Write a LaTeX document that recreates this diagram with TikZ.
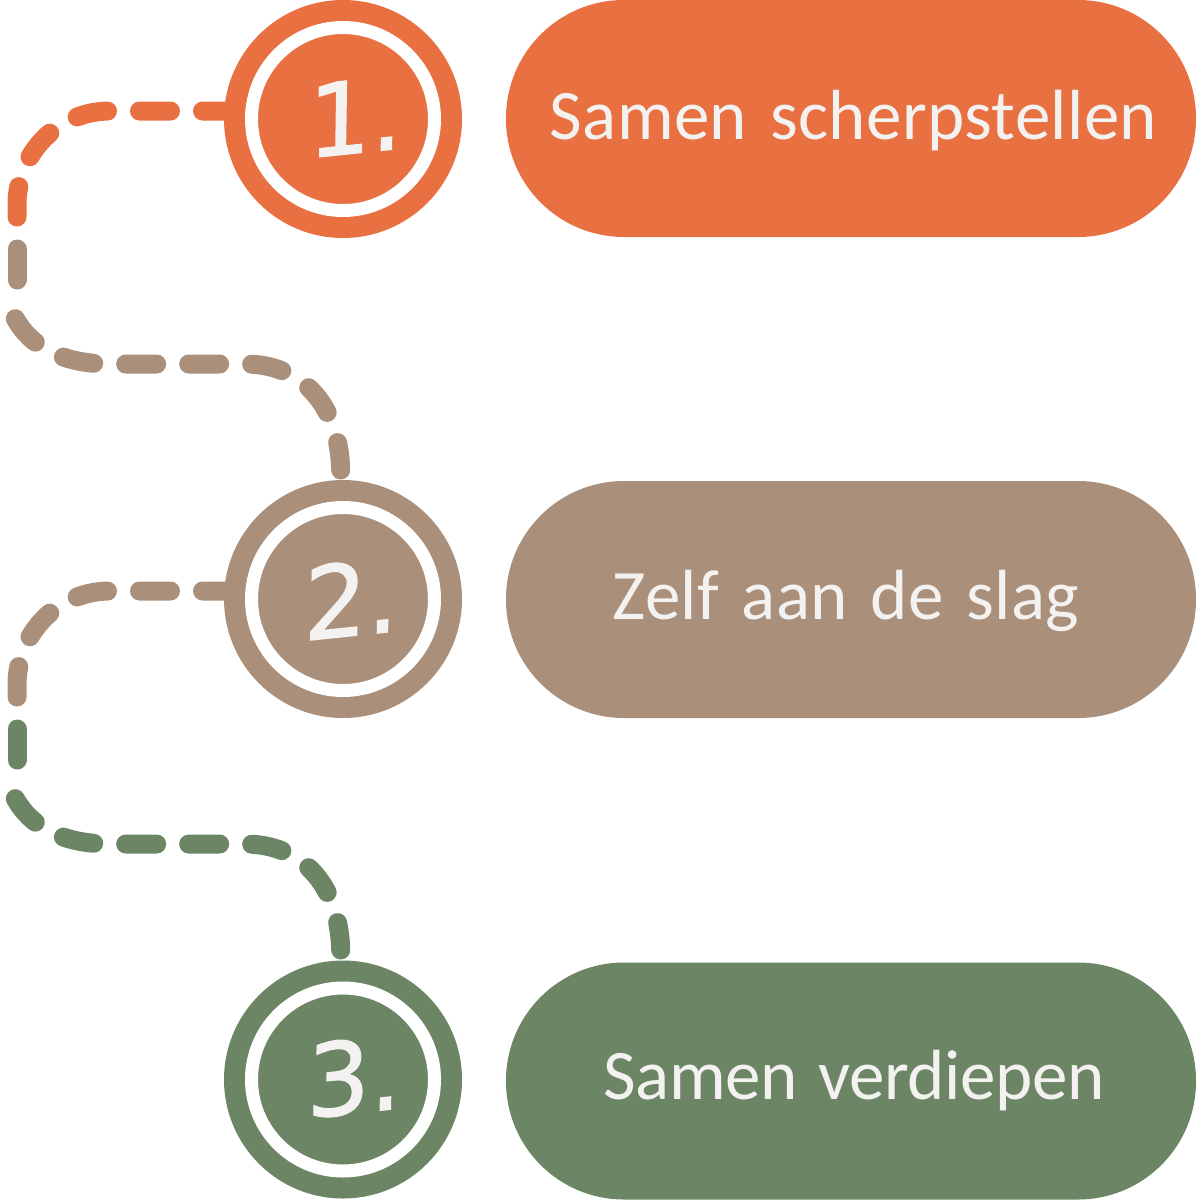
\documentclass[tikz,border=0pt]{standalone}
\usepackage{fontspec}
\newfontfamily\labfont[LetterSpace=0.5,WordSpace=1.4]{Carlito}
\newfontfamily\labfontC[LetterSpace=-0.6,WordSpace=1.3]{Carlito}
\newfontfamily\digitfont[FakeSlant=0.12,FakeBold=1.2]{DejaVu Sans}
\definecolor{cA}{HTML}{E87041}
\definecolor{cB}{HTML}{AA8F7B}
\definecolor{cC}{HTML}{6C8565}
\definecolor{txt}{HTML}{F3F2F0}
\tikzset{
  pill/.style={rectangle,fill=#1,rounded corners=118pt,minimum width=690pt,minimum height=237pt,inner sep=0pt},
  label/.style={inner sep=0pt,text=txt,font=\labfont\fontsize{71}{71}\selectfont},
  disc/.style={circle,fill=#1,minimum size=238pt,inner sep=0pt},
  ring/.style={circle,fill=#1,draw=white,line width=13pt,minimum size=183pt,inner sep=0pt},
  numeral/.style={inner sep=0pt,text=txt,rotate=6,font=\digitfont\fontsize{100}{100}\selectfont},
  link/.style={draw=#1,line width=19pt,line cap=round,dash pattern=on 31pt off 32pt}
}
\begin{document}
\begin{tikzpicture}[x=1pt,y=-1pt]
\useasboundingbox (0,0) rectangle (1200,1200);
% discs
\node[disc=cA] (d1) at (343,119) {};
\node[ring=cA] (r1) at (343,119) {};
\node[numeral] (t1) at (351,117) {1.};
\node[disc=cB] (d2) at (343,599) {};
\node[ring=cB] (r2) at (343,599) {};
\node[numeral] (t2) at (347,599) {2.};
\node[disc=cC] (d3) at (343,1079.5) {};
\node[ring=cC] (r3) at (343,1079.5) {};
\node[numeral] (t3) at (350,1077) {3.};
% pills
\node[pill=cA] (p1) at (851,118.5) {};
\node[pill=cB] (p2) at (851,599.5) {};
\node[pill=cC] (p3) at (851,1081) {};
\node[label] (l1) at (853.5,121) {Samen scherpstellen};
\node[label] (l2) at (846,601) {Zelf aan de slag};
\node[label,font=\labfontC\fontsize{71}{71}\selectfont] (l3) at (854,1081) {Samen verdiepen};
% connectors
\foreach \dy/\first/\second in {0/cA/cB, 480/cB/cC}{
  \begin{scope}[yshift=-\dy pt]
    \coordinate (a) at (233.5,111);
    \coordinate (b) at (17,217);
    \coordinate (c) at (17,249);
    \coordinate (e) at (17,280);
    \coordinate (f) at (15.3,318.7);
    \coordinate (g) at (340.7,470);
    \draw[link=\first] (a) -- (110,111) .. controls (58,111) and (17,153) .. (17,205) -- (b);
    \draw[draw=\second,line width=19pt,line cap=round] (c) -- (e);
    \draw[link=\second] (f) .. controls (30,345) and (60,364) .. (110,364) -- (245,364) .. controls (302,364) and (339,405) .. (g);
  \end{scope}
}
\end{tikzpicture}
\end{document}
